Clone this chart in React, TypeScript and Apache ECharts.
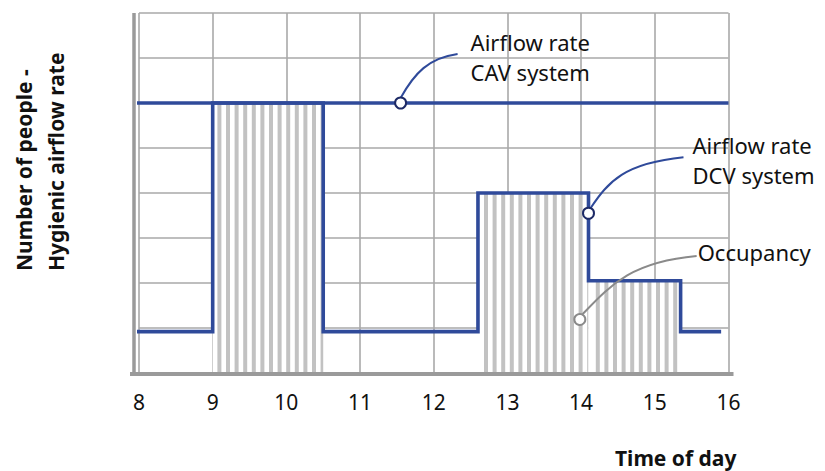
import React, { useEffect, useRef } from "react";
import * as echarts from "echarts";

// ---- data ----
const hourTicks = [8, 9, 10, 11, 12, 13, 14, 15, 16];
const cavTimes = [7.93, 16];
const cavValues = [6, 6];
const dcvTimes = [7.93, 9, 10.5, 12.6, 14.1, 15.35, 15.9];
const dcvValues = [0.92, 6, 0.92, 4, 2.05, 0.92, 0.92];
const occStart = [9, 12.6, 14.1];
const occEnd = [10.5, 14.1, 15.35];
const occValues = [6, 4, 2.05];

const BLUE = "#2f4a9a";
const GRID = "#a9a9a9";
const AXIS = "#9a9a9a";
const FONT = '"Noto Sans", "Open Sans", sans-serif';

export default function App() {
  const ref = useRef<HTMLDivElement>(null);

  useEffect(() => {
    document.body.style.margin = "0";
    const chart = echarts.init(ref.current!, undefined, { renderer: "svg" });
    const option: any = {
      animation: false,
      backgroundColor: "#ffffff",
      grid: { left: 139, right: 96.5, top: 13, bottom: 98, containLabel: false },
      xAxis: {
        type: "value",
        min: 8,
        max: 16,
        interval: 1,
        axisLine: { show: false },
        axisTick: { show: false },
        axisLabel: {
          color: "#111",
          fontSize: 21,
          fontFamily: FONT,
          margin: 18,
          formatter: (v: number) => (hourTicks.includes(v) ? String(v) : ""),
        },
        splitLine: { show: true, lineStyle: { color: GRID, width: 1.6 } },
      },
      yAxis: {
        type: "value",
        min: 0,
        max: 8,
        interval: 1,
        axisLine: { show: false },
        axisTick: { show: false },
        axisLabel: { show: false },
        splitLine: { show: true, lineStyle: { color: GRID, width: 1.6 } },
      },
      series: [
        {
          name: "Occupancy",
          type: "custom",
          z: 1,
          clip: false,
          data: occStart.map((s, i) => [s, occEnd[i], occValues[i]]),
          encode: { x: [0, 1], y: 2 },
          renderItem: (params: any, api: any) => {
            const a = api.coord([api.value(0), 0]);
            const b = api.coord([api.value(1), api.value(2)]);
            const x0 = a[0];
            const x1 = b[0];
            const yTop = b[1];
            const yBot = a[1] + 3;
            const children: any[] = [
              {
                type: "rect",
                shape: { x: x0, y: yTop, width: x1 - x0, height: yBot - yTop },
                style: { fill: "#ffffff" },
              },
            ];
            const step = 8.6;
            const start = 139 + Math.ceil((x0 - 139) / step) * step + 1;
            for (let x = start; x < x1 - 1; x += step) {
              children.push({
                type: "rect",
                shape: { x, y: yTop, width: Math.min(4, x1 - x), height: yBot - yTop },
                style: { fill: "#c2c2c2" },
              });
            }
            return { type: "group", children };
          },
        },
        {
          name: "Airflow rate CAV system",
          type: "line",
          z: 3,
          clip: false,
          symbol: "none",
          data: cavTimes.map((t, i) => [t, cavValues[i]]),
          lineStyle: { color: BLUE, width: 3.6 },
        },
        {
          name: "Airflow rate DCV system",
          type: "line",
          z: 4,
          clip: false,
          step: "end",
          symbol: "none",
          data: dcvTimes.map((t, i) => [t, dcvValues[i]]),
          lineStyle: { color: BLUE, width: 3.6, join: "miter" },
        },
      ],
    };
    chart.setOption(option);

    const px = (x: number, y: number) => chart.convertToPixel({ gridIndex: 0 }, [x, y]) as number[];
    const o = px(8, 0);
    const e = px(16, 8);

    const textStyle = (text: string, size: number, weight = "normal", color = "#111") => ({
      text,
      fill: color,
      fontSize: size,
      fontWeight: weight,
      fontFamily: FONT,
      textAlign: "left",
      textVerticalAlign: "middle",
    });

    const annot = (
      at: number[],
      lines: string[],
      color: string,
      curve: number[],
      textPos: number[],
      lineGap: number
    ) => {
      const c = px(at[0], at[1]);
      const [cx, cy] = c;
      const els: any[] = [
        {
          type: "bezierCurve",
          z: 50,
          shape: {
            x1: cx + curve[0],
            y1: cy + curve[1],
            cpx1: cx + curve[2],
            cpy1: cy + curve[3],
            cpx2: cx + curve[4],
            cpy2: cy + curve[5],
            x2: cx + curve[6],
            y2: cy + curve[7],
          },
          style: { stroke: color, lineWidth: 2, fill: null },
        },
        {
          type: "circle",
          z: 51,
          shape: { cx, cy, r: 5.5 },
          style: { fill: "#ffffff", stroke: color === BLUE ? "#1d2a66" : color, lineWidth: 2 },
        },
      ];
      lines.forEach((l, i) => {
        els.push({
          type: "text",
          z: 52,
          x: cx + textPos[0],
          y: cy + textPos[1] + i * lineGap,
          style: textStyle(l, 22),
        });
      });
      return els;
    };

    const graphics: any[] = [
      // axes
      {
        type: "line",
        z: 20,
        shape: { x1: o[0] - 5, y1: o[1] + 1, x2: o[0] - 5, y2: e[1] },
        style: { stroke: AXIS, lineWidth: 3.5 },
      },
      {
        type: "line",
        z: 20,
        shape: { x1: o[0] - 9, y1: o[1] + 1, x2: e[0] + 5, y2: o[1] + 1 },
        style: { stroke: AXIS, lineWidth: 4 },
      },
      ...annot([11.55, 6], ["Airflow rate", "CAV system"], BLUE, [0, -5, 14, -30, 28, -45, 57, -49], [70, -61, 30], 30),
      ...annot([14.1, 3.55], ["Airflow rate", "DCV system"], BLUE, [2, -5, 20, -32, 36, -50, 95, -56], [104, -68, 30], 30),
      ...annot([13.98, 1.22], ["Occupancy"], "#8a8a8a", [3, -4, 32, -34, 52, -56, 117, -62], [118, -66, 30], 30),
      // axis titles
      {
        type: "text",
        x: 24,
        y: 271,
        rotation: Math.PI / 2,
        style: textStyle("Number of people -", 21, "bold"),
      },
      {
        type: "text",
        x: 56,
        y: 271,
        rotation: Math.PI / 2,
        style: textStyle("Hygienic airflow rate", 21, "bold"),
      },
      {
        type: "text",
        x: 615,
        y: 458,
        style: textStyle("Time of day", 21, "bold"),
      },
    ];
    chart.setOption({ graphic: graphics });

    return () => chart.dispose();
  }, []);

  return (
    <div
      ref={ref}
      style={{ position: "fixed", left: 0, top: 0, width: 825, height: 471, background: "#fff" }}
    />
  );
}
